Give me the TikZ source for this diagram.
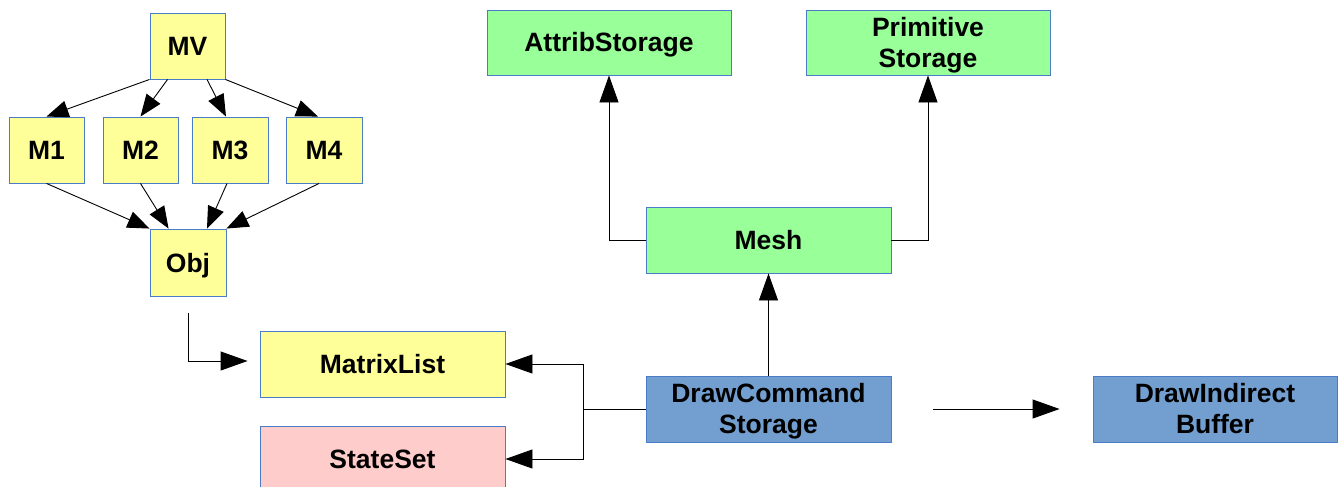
\documentclass[tikz,border=0pt]{standalone}
\usepackage{fontspec}
\setmainfont{Liberation Sans}
\usetikzlibrary{arrows.meta,calc}
\definecolor{ybox}{HTML}{FFFF99}
\definecolor{gbox}{HTML}{99FF99}
\definecolor{bbox}{HTML}{729FCF}
\definecolor{pbox}{HTML}{FFCCCC}
\definecolor{bord}{HTML}{4A7CC8}
\newcommand\twoline[2]{\raisebox{-3pt}[\height][\depth]{\begin{tabular}{@{}c@{}}#1\\#2\end{tabular}}}
\tikzset{
  box/.style={draw=bord, line width=0.9pt, inner sep=0pt, align=center,
    font=\fontsize{26.5}{31}\selectfont\bfseries, text=black},
  one/.style={text height=19pt, text depth=0pt},
  small/.style={box, one, fill=ybox, minimum width=75pt, minimum height=66pt},
  wide/.style={box, minimum width=244pt, minimum height=66pt},
  con/.style={line width=0.9pt, draw=black},
  sarr/.style={con, -{Triangle[length=22pt,width=17pt]}},
  barr/.style={con, -{Triangle[length=27pt,width=19pt]}},
}
\begin{document}
\begin{tikzpicture}[x=1pt,y=-1pt]
\useasboundingbox (0,0) rectangle (1338,487);
% small graph
\node[small] (MV) at (187.5,46) {MV};
\node[small] (M1) at (46.5,150) {M1};
\node[small] (M2) at (140.5,150) {M2};
\node[small, minimum width=76pt] (M3) at (230,150) {M3};
\node[small, minimum width=76pt] (M4) at (324,150) {M4};
\node[small, minimum width=76pt, minimum height=67pt] (Obj) at (188,262.5) {Obj};
% wide boxes
\node[wide, one, fill=gbox, minimum height=65pt] (Attrib) at (609,42.5) {AttribStorage};
\node[wide, fill=gbox, minimum height=65pt] (Prim) at (928,42.5) {\twoline{Primitive}{Storage}};
\node[wide, one, fill=gbox, minimum width=245pt] (Mesh) at (768.5,240) {Mesh};
\node[wide, fill=bbox, minimum width=245pt] (DC) at (768.5,409) {\twoline{DrawCommand}{Storage}};
\node[wide, fill=bbox] (DI) at (1215,409) {\twoline{DrawIndirect}{Buffer}};
\node[wide, one, fill=ybox, minimum width=245pt] (ML) at (382.5,364) {MatrixList};
\node[wide, one, fill=pbox, minimum width=245pt] (SS) at (382.5,459) {StateSet};
% graph connectors
\draw[sarr] (MV.south west) -- (M1.north);
\draw[sarr] ($(MV.south west)+(18,0)$) -- (M2.north);
\draw[sarr] ($(MV.south)+(19.5,0)$) -- ($(M3.north)+(-4,0)$);
\draw[sarr] (MV.south east) -- ($(M4.north)+(-6,0)$);
\draw[sarr] (M1.south) -- (Obj.north west);
\draw[sarr] (M2.south) -- ($(Obj.north west)+(19,0)$);
\draw[sarr] ($(M3.south)+(-3,0)$) -- ($(Obj.north)+(19,0)$);
\draw[sarr] ($(M4.south)+(-5,0)$) -- (Obj.north east);
% other connectors
\coordinate (objout) at ($(Obj.south)+(0,17)$);
\coordinate (mlin) at ($(ML.west)+(-12,-3)$);
\draw[barr] (objout) |- (mlin);
\coordinate (junc) at ($(DC.west)+(-62,0)$);
\draw[con] (DC.west) -- (junc);
\draw[barr] (junc) |- (ML.east);
\draw[barr] (junc) |- (SS.east);
\draw[barr] (DC.north) -- (Mesh.south);
\draw[barr] (Mesh.west) -| (Attrib.south);
\draw[barr] (Mesh.east) -| (Prim.south);
\coordinate (dcout) at ($(DC.east)+(42,0)$);
\coordinate (diin) at ($(DI.west)+(-33,0)$);
\draw[barr] (dcout) -- (diin);
\end{tikzpicture}
\end{document}
